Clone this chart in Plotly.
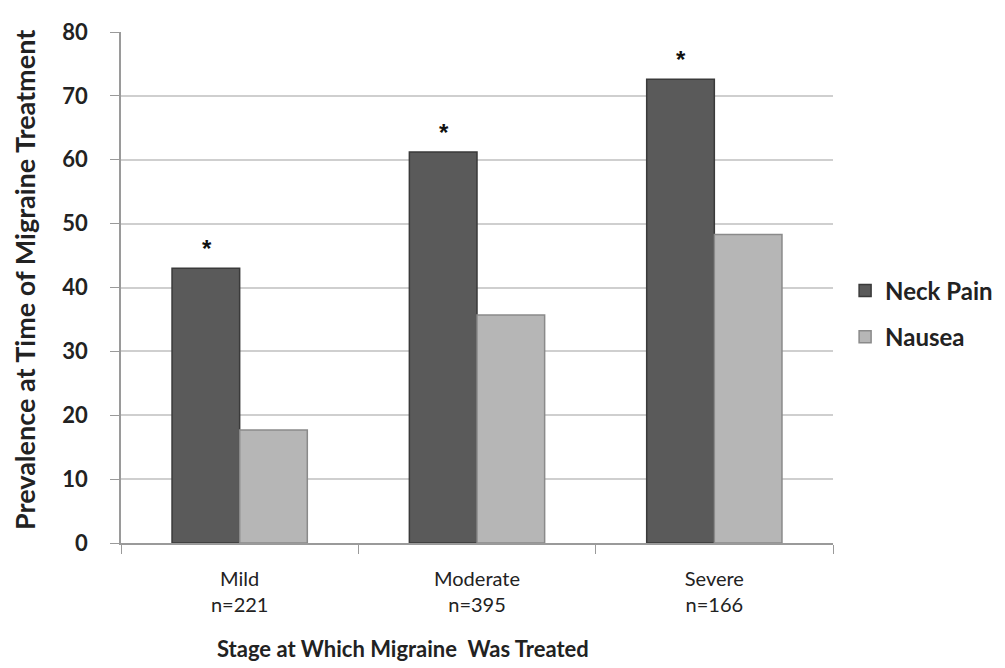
import plotly.graph_objects as go

categories = ["Mild<br>n=221", "Moderate<br>n=395", "Severe<br>n=166"]
neck_pain = [43.0, 61.2, 72.6]
nausea = [17.7, 35.7, 48.3]
y_ticks = [0, 10, 20, 30, 40, 50, 60, 70, 80]
sig_marks = ["*", "*", "*"]

fig = go.Figure()
fig.add_trace(go.Bar(
    x=categories, y=neck_pain, name="Neck Pain", legendgroup="a",
    marker=dict(color="#5a5a5a", line=dict(color="#3a3a3a", width=1.5)),
))
fig.add_trace(go.Bar(
    x=categories, y=nausea, name="Nausea", legendgroup="b",
    marker=dict(color="#b6b6b6", line=dict(color="#8a8a8a", width=1.5)),
))

for c, v, s in zip(categories, neck_pain, sig_marks):
    fig.add_annotation(x=c, y=v, text=s, showarrow=False, xshift=-33, yshift=20,
                       font=dict(size=24, color="#111", family="Liberation Sans", weight="bold"))

fig.add_annotation(xref="paper", yref="paper", x=(403 - 121) / 712, y=(543 - 648) / 511,
                   text="Stage at Which Migraine  Was Treated", showarrow=False,
                   xanchor="center", yanchor="middle",
                   font=dict(size=22, family="Lato", color="#222", weight="bold"))
fig.add_annotation(xref="paper", yref="paper", x=(24 - 121) / 712, y=(543 - 280) / 511,
                   text="Prevalence at Time of Migraine Treatment", showarrow=False,
                   textangle=-90, xanchor="center", yanchor="middle",
                   font=dict(size=27, family="Lato", color="#222", weight="bold"))

fig.update_layout(
    width=1005, height=668,
    paper_bgcolor="white", plot_bgcolor="white",
    margin=dict(l=113, r=180, t=24, b=133),
    barmode="group", bargap=0.43, bargroupgap=0,
    font=dict(family="Lato", color="#222"),
    legend=dict(x=1.017, y=(543 - 314) / 511, xanchor="left", yanchor="middle",
                font=dict(size=24, family="Lato", color="#222", weight="bold"),
                traceorder="grouped", tracegroupgap=12, itemwidth=30),
    showlegend=True,
)
fig.update_xaxes(
    automargin=False,
    showline=True, linecolor="#9a9a9a", linewidth=1.5,
    ticks="outside", tickson="boundaries", ticklen=9, tickcolor="#9a9a9a",
    ticklabelstandoff=17,
    tickfont=dict(size=20, family="Lato", color="#222"),
)
fig.update_yaxes(
    automargin=False,
    range=[0, 80], tickvals=y_ticks,
    showline=True, linecolor="#9a9a9a", linewidth=1.5,
    ticks="outside", ticklen=9, tickcolor="#9a9a9a",
    ticklabelstandoff=18,
    showgrid=True, gridcolor="#cfcfcf", gridwidth=2,
    tickfont=dict(size=22, family="Lato", color="#222", weight="bold"),
)

fig.write_html("out.html")
